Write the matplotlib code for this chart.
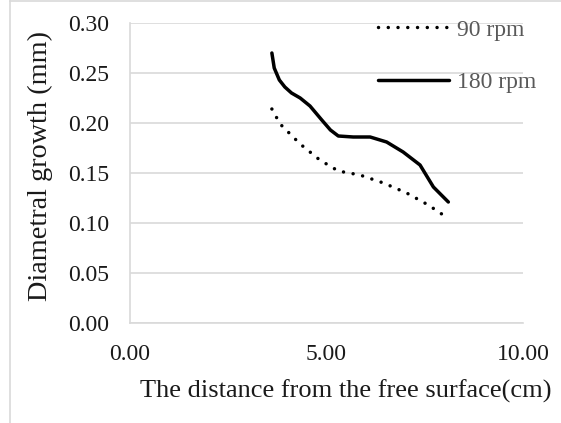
import matplotlib
matplotlib.use("Agg")
import matplotlib.pyplot as plt
from matplotlib.lines import Line2D

x_90 = [3.61, 3.82, 4.33, 4.83, 5.30, 5.85, 6.45, 7.04, 7.59, 7.97]
y_90 = [0.214, 0.199, 0.179, 0.163, 0.152, 0.148, 0.140, 0.130, 0.118, 0.108]

x_180 = [3.61, 3.67, 3.80, 3.94, 4.11, 4.33, 4.58, 4.88, 5.10, 5.30, 5.68, 6.11, 6.53, 6.95, 7.38, 7.72, 8.10]
y_180 = [0.270, 0.255, 0.243, 0.236, 0.230, 0.225, 0.217, 0.203, 0.193, 0.187, 0.186, 0.186, 0.181, 0.171, 0.158, 0.136, 0.121]

labels = ["90 rpm", "180 rpm"]
xticks = [0.0, 5.0, 10.0]
yticks = [0.00, 0.05, 0.10, 0.15, 0.20, 0.25, 0.30]

plt.rcParams['font.family'] = ['Liberation Serif', 'DejaVu Serif']

fig = plt.figure(figsize=(5.61, 4.23), dpi=100)
ax = fig.add_axes([130/561, 1-323/423, 393/561, 300/423])

grid_c = '#d9d9d9'
ax.plot(x_90, y_90, color='black', lw=2.5, linestyle=(0, (0.01, 2.8)),
        dash_capstyle='round', label=labels[0])
ax.plot(x_180, y_180, color='black', lw=2.5, solid_capstyle='round',
        solid_joinstyle='round', label=labels[1])

ax.set_xlim(0, 10)
ax.set_ylim(0, 0.30)
ax.set_xticks(xticks)
ax.set_yticks(yticks)
ax.set_xticklabels([f"{v:.2f}" for v in xticks])
ax.set_yticklabels([f"{v:.2f}" for v in yticks])
ax.tick_params(axis='both', length=0, labelsize=17, colors='#1a1a1a')
ax.tick_params(axis='y', pad=15)
ax.tick_params(axis='x', pad=15)
ax.grid(axis='y', color=grid_c, lw=1.2)
ax.set_axisbelow(True)
for s in ['top', 'right']:
    ax.spines[s].set_visible(False)
ax.spines['left'].set_color(grid_c)
ax.spines['bottom'].set_color(grid_c)
ax.spines['left'].set_linewidth(1.2)
ax.spines['bottom'].set_linewidth(1.2)

ax.set_xlabel("The distance from the free surface(cm)", fontsize=19, color='#1a1a1a')
ax.set_ylabel("Diametral growth (mm)", fontsize=20.3, color='#1a1a1a')
ax.xaxis.set_label_coords(0.55, -0.187)
ax.yaxis.set_label_coords(-0.195, 0.523)

leg = ax.legend(loc='upper left', bbox_to_anchor=(378/561, 1-19/423),
                bbox_transform=fig.transFigure, frameon=False, fontsize=17,
                handlelength=3.0, handletextpad=0.34, labelspacing=1.33,
                borderpad=0, borderaxespad=0)
for t in leg.get_texts():
    t.set_color('#595959')

fig.add_artist(Line2D([10/561, 10/561], [0, 1-1/423], transform=fig.transFigure, color=grid_c, lw=1.2))
fig.add_artist(Line2D([10/561, 1], [1-1.5/423, 1-1.5/423], transform=fig.transFigure, color=grid_c, lw=1.2))

fig.savefig("out.png", dpi=100)
